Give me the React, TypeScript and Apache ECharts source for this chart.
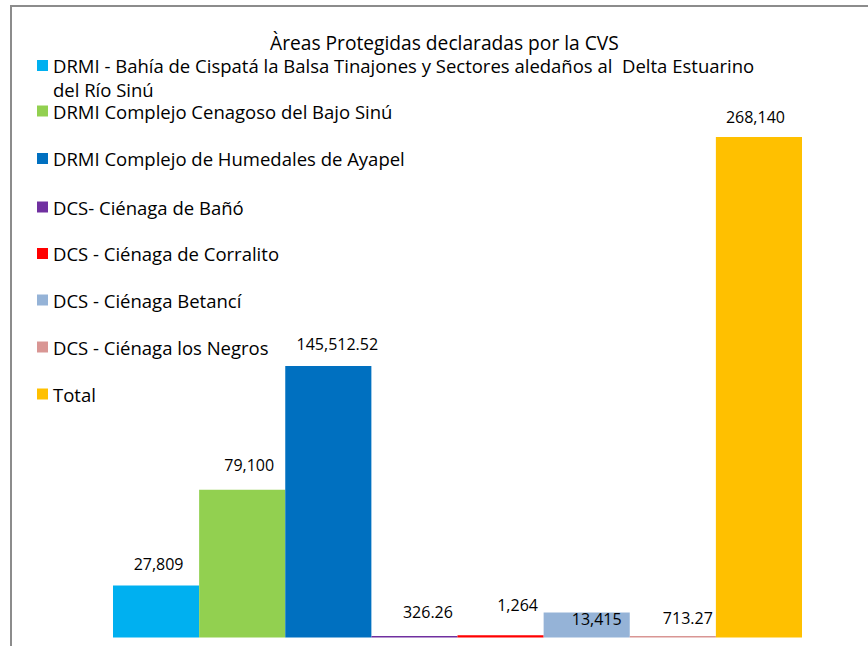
import React, { useEffect, useRef } from "react";
import * as echarts from "echarts";

const seriesNames = [
  "DRMI - Bahía de Cispatá la Balsa Tinajones y Sectores aledaños al  Delta Estuarino del Río Sinú",
  "DRMI Complejo Cenagoso del Bajo Sinú",
  "DRMI Complejo de Humedales de Ayapel",
  "DCS- Ciénaga de Bañó",
  "DCS - Ciénaga de Corralito",
  "DCS - Ciénaga Betancí",
  "DCS - Ciénaga los Negros",
  "Total",
];
const seriesValues = [27809, 79100, 145512.52, 326.26, 1264, 13415, 713.27, 268140];
const categories = [""];
const titleText = "Àreas Protegidas declaradas por la CVS";

const colors = ["#00B0F0", "#92D050", "#0070C0", "#7030A0", "#FF0000", "#95B3D7", "#D99694", "#FFC000"];
const labelOffsets = [
  [2.5, -8.5],
  [7, -11.5],
  [9, -8.5],
  [13.5, -11.5],
  [17, -17],
  [10, 20],
  [15, -5.5],
  [-3.5, -7],
];
const legendLineCenters = [65.5, 111, 158.5, 207, 253.5, 300, 347, 394];

const FONT = "'Open Sans', sans-serif";

export default function App() {
  const ref = useRef<HTMLDivElement>(null);
  useEffect(() => {
    if (!ref.current) return;
    const chart = echarts.init(ref.current, null, { renderer: "svg" });
    const fmt = (v: number) => v.toLocaleString("en-US", { maximumFractionDigits: 2 });
    const firstLH = 24;
    const legends = seriesNames.map((name, i) => {
      const first = i === 0;
      return {
        data: [name],
        left: 37,
        top: first ? legendLineCenters[0] - 1.5 * firstLH : legendLineCenters[i] - 10,
        orient: "vertical",
        padding: 0,
        itemGap: 0,
        itemWidth: 11,
        itemHeight: 11,
        icon: "rect",
        selectedMode: false,
        formatter: first
          ? (n: string) => "\n" + n.replace(" del Río Sinú", "\ndel Río Sinú")
          : undefined,
        textStyle: {
          fontFamily: FONT,
          fontSize: 18.5,
          color: "#000",
          lineHeight: first ? firstLH : 20,
        },
      };
    });
    chart.setOption({
      animation: false,
      backgroundColor: "#fff",
      title: {
        text: titleText,
        left: 270,
        top: 30,
        padding: 0,
        textStyle: {
          fontFamily: FONT,
          fontSize: 19.2,
          fontWeight: "normal",
          color: "#000",
          lineHeight: 24,
        },
      },
      legend: legends,
      graphic: [
        {
          type: "rect",
          silent: true,
          shape: { x: 11, y: 6, width: 900, height: 700 },
          style: { fill: "none", stroke: "#8c8c8c", lineWidth: 2 },
        },
      ],
      grid: { left: 113, right: 66, top: 137, bottom: 8.5 },
      xAxis: {
        type: "category",
        data: categories,
        show: false,
      },
      yAxis: {
        type: "value",
        min: 0,
        max: 268140,
        show: false,
      },
      series: seriesNames.map((name, i) => ({
        name,
        type: "bar",
        data: [seriesValues[i]],
        barGap: "0%",
        barCategoryGap: "0%",
        barMinHeight: 1.5,
        itemStyle: { color: colors[i] },
        label: {
          show: true,
          position: "top",
          offset: labelOffsets[i],
          fontFamily: FONT,
          fontSize: 16,
          lineHeight: 16,
          color: "#000",
          formatter: (p: any) => fmt(p.value),
        },
      })),
    });
    return () => chart.dispose();
  }, []);
  return (
    <div
      ref={ref}
      style={{ position: "fixed", left: 0, top: 0, width: 868, height: 646 }}
    />
  );
}
